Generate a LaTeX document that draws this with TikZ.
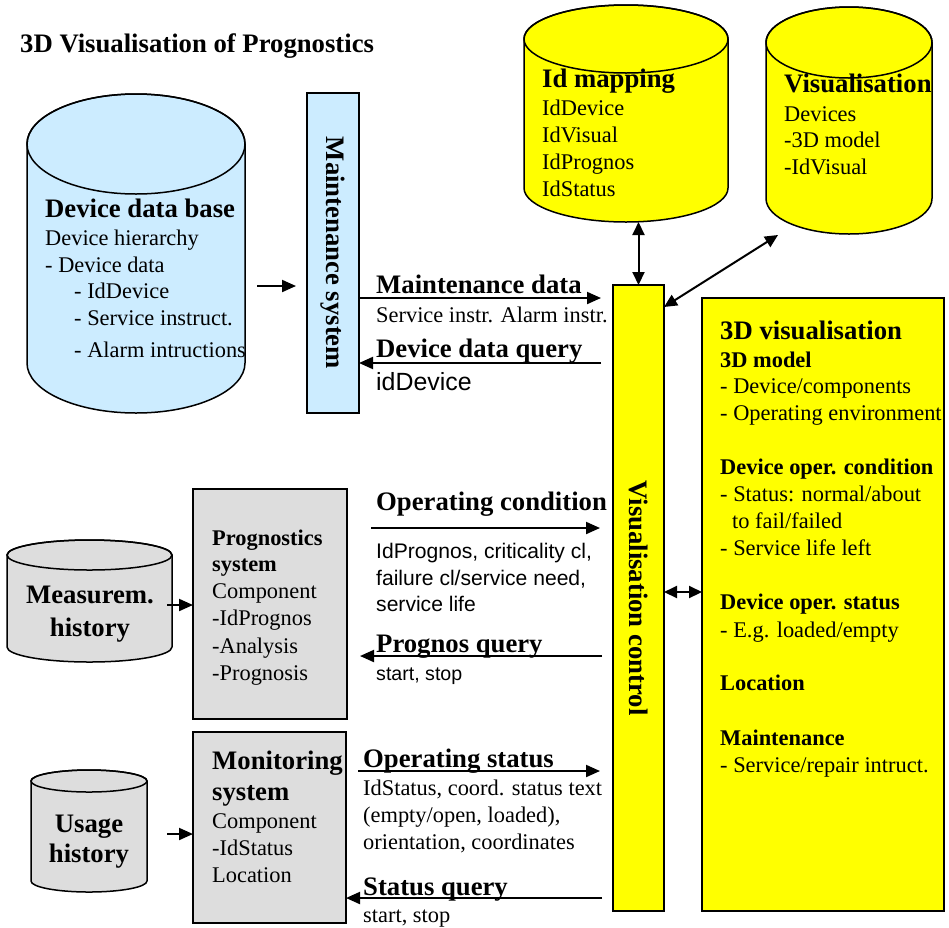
\documentclass[tikz,border=0pt]{standalone}
\usepackage{fontspec}
\setmainfont{Liberation Serif}
\newfontfamily\arialfont{Liberation Sans}
\usetikzlibrary{arrows.meta}
\definecolor{dbblue}{HTML}{CCECFF}
\definecolor{vyellow}{HTML}{FFFF00}
\definecolor{pgray}{HTML}{DDDDDD}
\newcommand\bigf{\fontsize{26.7}{30}\selectfont}
\newcommand\bodyf{\fontsize{22.4}{27}\selectfont}
% cylinder: cx, rx, y of top ellipse centre, y of bottom ellipse centre, ry, fill
\newcommand\drum[6]{%
  \path[fill=#6,draw=black,line width=1.5pt]
    (#1-#2,#3) -- (#1-#2,#4)
    arc[start angle=180,end angle=0,x radius=#2,y radius=#5]
    -- (#1+#2,#3)
    arc[start angle=0,end angle=-180,x radius=#2,y radius=#5] -- cycle;
  \draw[line width=1.5pt] (#1,#3) ellipse[x radius=#2,y radius=#5];
}
\begin{document}
\begin{tikzpicture}[x=1pt,y=-1pt,
  txt/.style={anchor=base west,inner sep=0pt,font=\bodyf},
  hd/.style={anchor=base west,inner sep=0pt,font=\bigf\bfseries},
  sub/.style={anchor=base west,inner sep=0pt,font=\bodyf\bfseries},
  ctr/.style={anchor=base,inner sep=0pt,font=\bigf\bfseries},
  box/.style={draw,line width=1.5pt,inner sep=0pt,outer sep=0pt},
  ghost/.style={inner sep=0pt,outer sep=0pt},
  link/.style={line width=2pt,-{Triangle[length=14pt,width=12pt]}},
  both/.style={line width=2pt,{Triangle[length=13pt,width=12pt]}-{Triangle[length=13pt,width=12pt]}},
  vlabel/.style={rotate=-90,font=\bigf\bfseries,inner sep=0pt}]

\fill[white] (0,0) rectangle (949,927);
\useasboundingbox (0,0) rectangle (949,927);

% title
\node[hd] (title) at (20,52) {3D Visualisation of Prognostics};

% ---------- cylinders ----------
\drum{136}{109}{144}{363}{50}{dbblue}
\node[ghost,minimum width=218,minimum height=319] (db) at (136,253.5) {};
\drum{626}{102}{39}{188}{34}{vyellow}
\node[ghost,minimum width=204,minimum height=217] (idmap) at (626,113.5) {};
\drum{849}{83}{42.5}{198.5}{35.5}{vyellow}
\node[ghost,minimum width=166,minimum height=227] (visdb) at (849,120.5) {};
\drum{89.5}{82.5}{555}{647}{15}{pgray}
\node[ghost,minimum width=165,minimum height=122] (meas) at (89.5,601) {};
\drum{89}{58}{781}{881}{11}{pgray}
\node[ghost,minimum width=116,minimum height=122] (usage) at (89,831) {};

% ---------- boxes ----------
\node[box,fill=dbblue,minimum width=52,minimum height=320] (maint) at (333,253) {};
\node[box,fill=vyellow,minimum width=51,minimum height=626] (viscl) at (638.5,598) {};
\node[box,fill=vyellow,minimum width=242,minimum height=613] (vis3d) at (823,604.5) {};
\node[box,fill=pgray,minimum width=154,minimum height=230] (prog) at (270,604) {};
\node[box,fill=pgray,minimum width=153,minimum height=191] (mon) at (269.5,827.5) {};

\node[vlabel] (maintlbl) at (maint.center) {Maintenance system};
\node[vlabel] (vislbl) at (viscl.center) {Visualisation control};

% ---------- device data base ----------
\node[hd]  (db1) at (45,217) {Device data base};
\node[txt] (db2) at (45,245) {Device hierarchy};
\node[txt] (db3) at (45,272) {- Device data};
\node[txt] (db4) at (74,298) {- IdDevice};
\node[txt] (db5) at (74,325) {- Service instruct.};
\node[txt] (db6) at (74,357) {- Alarm intructions};

% ---------- id mapping ----------
\node[hd]  (im1) at (542,87) {Id mapping};
\node[txt] (im2) at (542,115) {IdDevice};
\node[txt] (im3) at (542,142) {IdVisual};
\node[txt] (im4) at (542,169) {IdPrognos};
\node[txt] (im5) at (542,196) {IdStatus};

% ---------- visualisation store ----------
\node[hd]  (vd1) at (784,92) {Visualisation};
\node[txt] (vd2) at (784,121) {Devices};
\node[txt] (vd3) at (784,147) {-3D model};
\node[txt] (vd4) at (784,174) {-IdVisual};

% ---------- 3D visualisation ----------
\node[hd]  (v1)  at (720,339) {3D visualisation};
\node[sub] (v2)  at (720,367) {3D model};
\node[txt] (v3)  at (720,393) {- Device/components};
\node[txt] (v4)  at (720,420) {- Operating environment};
\node[sub] (v5)  at (720,474) {Device oper. condition};
\node[txt] (v6)  at (720,501) {- Status: normal/about};
\node[txt] (v7)  at (732,528) {to fail/failed};
\node[txt] (v8)  at (720,555) {- Service life left};
\node[sub] (v9)  at (720,609) {Device oper. status};
\node[txt] (v10) at (720,637) {- E.g. loaded/empty};
\node[sub] (v11) at (720,690) {Location};
\node[sub] (v12) at (720,745) {Maintenance};
\node[txt] (v13) at (720,772) {- Service/repair intruct.};

% ---------- measurement history / prognostics ----------
\node[ctr] (ms1) at (90,603) {Measurem.};
\node[ctr] (ms2) at (90,636) {history};
\node[sub] (p1) at (212,545) {Prognostics};
\node[sub] (p2) at (212,571) {system};
\node[txt] (p3) at (212,598) {Component};
\node[txt] (p4) at (212,625) {-IdPrognos};
\node[txt] (p5) at (212,653) {-Analysis};
\node[txt] (p6) at (212,680) {-Prognosis};

% ---------- usage history / monitoring ----------
\node[ctr] (us1) at (89,832) {Usage};
\node[ctr] (us2) at (89,862) {history};
\node[hd]  (m1) at (212,769) {Monitoring};
\node[hd]  (m2) at (212,800) {system};
\node[txt] (m3) at (212,828) {Component};
\node[txt] (m4) at (212,855) {-IdStatus};
\node[txt] (m5) at (212,882) {Location};

% ---------- arrow labels ----------
\node[hd]  (l1) at (376,293) {Maintenance data};
\node[txt] (l2) at (376,322) {Service instr. Alarm instr.};
\node[hd]  (l3) at (376,357) {Device data query};
\node[txt,font=\arialfont\fontsize{24.9}{28}\selectfont] (l4) at (376,390) {idDevice};

\node[hd] (l5) at (376,510) {Operating condition};
\begin{scope}[every node/.style={anchor=base west,inner sep=0pt,font=\arialfont\fontsize{21.1}{26}\selectfont}]
\node (l6) at (376,558) {IdPrognos, criticality cl,};
\node (l7) at (376,585) {failure cl/service need,};
\node (l8) at (376,611) {service life};
\end{scope}
\node[hd] (l9) at (376,652) {Prognos query};
\node[txt,font=\arialfont\fontsize{19.6}{24}\selectfont] (l10) at (376,680) {start, stop};

\node[hd]  (l11) at (363,767) {Operating status};
\node[txt] (l12) at (363,795) {IdStatus, coord. status text};
\node[txt] (l13) at (363,822) {(empty/open, loaded),};
\node[txt] (l14) at (363,849) {orientation, coordinates};
\node[hd]  (l15) at (363,895) {Status query};
\node[txt] (l16) at (363,922) {start, stop};

% ---------- connectors ----------
\coordinate (dbout) at (257,286);
\coordinate (measout) at (167,605);
\coordinate (usageout) at (167,834);
\coordinate (visfoot) at (778,235);
\coordinate (rMD) at (0,298);
\coordinate (rDQ) at (0,363);
\coordinate (rOC) at (0,528);
\coordinate (rPQ) at (0,656);
\coordinate (rOS) at (0,771);
\coordinate (rSQ) at (0,898);
\coordinate (rVV) at (0,592);

\draw[link,shorten >=11pt] (dbout) -- (dbout -| maint.west);
\draw[link] (measout) -- (measout -| prog.west);
\draw[link] (usageout) -- (usageout -| mon.west);

\draw[link,shorten >=12pt] (maint.east |- rMD) -- (viscl.west |- rMD);
\draw[link,shorten <=12pt] (viscl.west |- rDQ) -- (maint.east |- rDQ);
\draw[link,shorten <=24pt,shorten >=13pt] (prog.east |- rOC) -- (viscl.west |- rOC);
\draw[link,shorten <=11pt,shorten >=13pt] (viscl.west |- rPQ) -- (prog.east |- rPQ);
\draw[link,shorten <=12pt,shorten >=13pt] (mon.east |- rOS) -- (viscl.west |- rOS);
\draw[link,shorten <=11pt] (viscl.west |- rSQ) -- (mon.east |- rSQ);

\draw[both] (viscl.north) -- (viscl.north |- idmap.south);
\draw[both] ([yshift=-22pt]viscl.north east) -- (visfoot);
\draw[both] (viscl.east |- rVV) -- (vis3d.west |- rVV);
\end{tikzpicture}
\end{document}
